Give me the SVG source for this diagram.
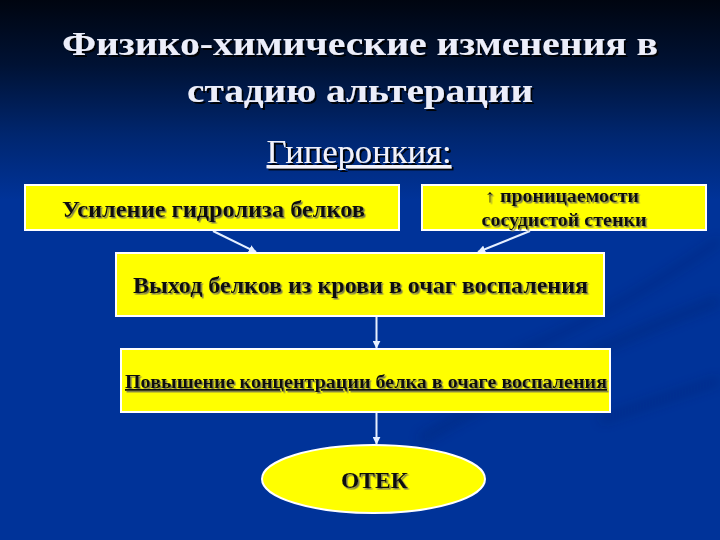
<svg xmlns="http://www.w3.org/2000/svg" width="720" height="540" viewBox="0 0 720 540">
  <defs>
    <linearGradient id="bg" x1="0" y1="0" x2="0" y2="1">
      <stop offset="0" stop-color="#000510"/>
      <stop offset="0.12" stop-color="#001234"/>
      <stop offset="0.25" stop-color="#00266F"/>
      <stop offset="0.37" stop-color="#003399"/>
      <stop offset="1" stop-color="#003399"/>
    </linearGradient>
    <filter id="soft" x="-20%" y="-50%" width="140%" height="200%">
      <feGaussianBlur stdDeviation="6"/>
    </filter>
    <filter id="shTitle" x="-5%" y="-20%" width="110%" height="150%">
      <feDropShadow dx="2" dy="2" stdDeviation="0.6" flood-color="#000000" flood-opacity="0.9"/>
    </filter>
    <filter id="shLbl" x="-5%" y="-20%" width="110%" height="150%">
      <feDropShadow dx="1.5" dy="1.5" stdDeviation="0.4" flood-color="#7A7A50" flood-opacity="1"/>
    </filter>
    <marker id="ah" viewBox="0 0 10 10" refX="9" refY="5" markerWidth="4" markerHeight="4" orient="auto" markerUnits="strokeWidth">
      <path d="M0,0 L10,5 L0,10 z" fill="#E6F0FF"/>
    </marker>
    <style>
      text { font-family: "Liberation Serif", "Times New Roman", "DejaVu Serif", serif; }
      .title { font-weight: bold; font-size: 34px; fill: #ECEEFA; text-anchor: middle; filter: url(#shTitle); }
      .sub { font-size: 34px; fill: #F2F2FA; text-anchor: middle; text-decoration: underline; filter: url(#shTitle); }
      .box { fill: #FFFF00; stroke: #FFFFFF; stroke-width: 2; }
      .lbl { font-weight: bold; fill: #111111; text-anchor: middle; filter: url(#shLbl); }
      .conn { stroke: #E6F0FF; stroke-width: 2; fill: none; marker-end: url(#ah); }
    </style>
  </defs>

  <rect x="0" y="0" width="720" height="540" fill="url(#bg)"/>
  <g opacity="0.3" filter="url(#soft)">
    <path d="M420,440 Q560,360 720,300" stroke="#001E66" stroke-width="10" fill="none"/>
    <path d="M470,370 Q590,330 720,240" stroke="#001E66" stroke-width="7" fill="none"/>
    <path d="M600,420 Q660,400 720,380" stroke="#001E66" stroke-width="8" fill="none"/>
  </g>

  <g id="title">
    <text class="title" x="360" y="55" textLength="596" lengthAdjust="spacingAndGlyphs" font-family="Liberation Serif, DejaVu Serif, serif">Физико-химические изменения в</text>
    <text class="title" x="360" y="102" textLength="346" lengthAdjust="spacingAndGlyphs" font-family="Liberation Serif, DejaVu Serif, serif">стадию альтерации</text>
  </g>

  <g id="subtitle">
    <text class="sub" x="359" y="163" textLength="185" lengthAdjust="spacingAndGlyphs" font-family="Liberation Serif, DejaVu Serif, serif">Гиперонкия:</text>
  </g>

  <g id="connectors">
    <line class="conn" x1="213" y1="231" x2="256" y2="252"/>
    <line class="conn" x1="530" y1="231" x2="478" y2="252"/>
    <line class="conn" x1="376.5" y1="316" x2="376.5" y2="348"/>
    <line class="conn" x1="376.5" y1="412" x2="376.5" y2="444"/>
  </g>

  <g id="hydrolysis">
    <rect class="box" x="25" y="185" width="374" height="45"/>
    <text class="lbl" x="213.5" y="217" font-size="24" textLength="303" lengthAdjust="spacingAndGlyphs" font-family="Liberation Serif, DejaVu Serif, serif">Усиление гидролиза белков</text>
  </g>

  <g id="permeability">
    <rect class="box" x="422" y="185" width="284" height="45"/>
    <text class="lbl" x="562" y="202" font-size="18" textLength="154" lengthAdjust="spacingAndGlyphs" font-family="Liberation Serif, DejaVu Serif, serif">↑ проницаемости</text>
    <text class="lbl" x="564" y="226" font-size="18" textLength="165" lengthAdjust="spacingAndGlyphs" font-family="Liberation Serif, DejaVu Serif, serif">сосудистой стенки</text>
  </g>

  <g id="exit">
    <rect class="box" x="116" y="253" width="488" height="63"/>
    <text class="lbl" x="360.5" y="293" font-size="24" textLength="455" lengthAdjust="spacingAndGlyphs" font-family="Liberation Serif, DejaVu Serif, serif">Выход белков из крови в очаг воспаления</text>
  </g>

  <g id="concentration">
    <rect class="box" x="121" y="349" width="489" height="63"/>
    <text class="lbl" x="366" y="388" font-size="18" text-decoration="underline" textLength="482" lengthAdjust="spacingAndGlyphs" font-family="Liberation Serif, DejaVu Serif, serif">Повышение концентрации белка в очаге воспаления</text>
  </g>

  <g id="edema">
    <ellipse cx="373.5" cy="479" rx="111.5" ry="34" fill="#FFFF00" stroke="#FFFFFF" stroke-width="2"/>
    <text class="lbl" x="374.5" y="488" font-size="23" textLength="67" lengthAdjust="spacingAndGlyphs" font-family="Liberation Serif, DejaVu Serif, serif">ОТЕК</text>
  </g>
</svg>
